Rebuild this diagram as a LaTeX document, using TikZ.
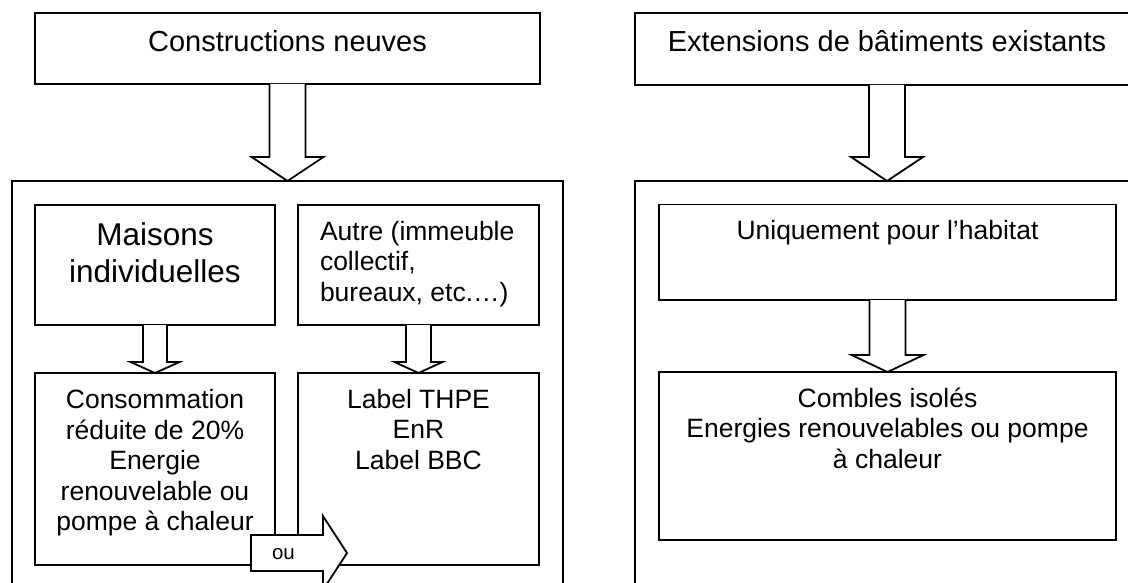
\documentclass[tikz,border=0pt]{standalone}
\usepackage{fontspec}
\setmainfont{Liberation Sans}
\usetikzlibrary{calc}

% hollow downward block arrow between two boxes:
% #1 upper node, #2 lower node, #3 shaft half width, #4 head half width, #5 head length
\newcommand\hollowdown[5]{%
  \draw[blk] ($(#1.south)+(-#3,0)$) -- ($(#2.north)+(-#3,-#5)$)
    -- ($(#2.north)+(-#4,-#5)$) -- (#2.north) -- ($(#2.north)+(#4,-#5)$)
    -- ($(#2.north)+(#3,-#5)$) -- ($(#1.south)+(#3,0)$);}

\begin{document}
\begin{tikzpicture}[x=1pt, y=-1pt,
  box/.style={draw, line width=1.8pt, fill=white, inner sep=0pt, outer sep=0pt, anchor=north west},
  blk/.style={draw, line width=1.8pt, fill=white, line join=miter},
  txt/.style={inner sep=0pt, outer sep=0pt, anchor=base, align=center},
  big/.style={font=\fontsize{31.5}{37}\selectfont},
  head/.style={font=\fontsize{29}{33}\selectfont},
  body/.style={font=\fontsize{26.5}{30.4}\selectfont},
  small/.style={font=\fontsize{20.5}{24}\selectfont}]
\useasboundingbox (0,0) rectangle (1128,583);
\clip (0,0) rectangle (1128,583);

% left column: new constructions
\node[box, minimum width=505pt, minimum height=71pt] (cn) at (35,13) {};
\node[box, minimum width=551pt, minimum height=430pt] (outL) at (12,181) {};
\node[box, minimum width=240pt, minimum height=120pt] (mi) at (35,205) {};
\node[box, minimum width=241pt, minimum height=120pt] (au) at (298,205) {};
\node[box, minimum width=240pt, minimum height=192pt] (co) at (35,373) {};
\node[box, minimum width=241pt, minimum height=192pt] (la) at (298,373) {};

% right column: extensions
\node[box, minimum width=504pt, minimum height=72pt] (ex) at (635,13) {};
\node[box, minimum width=504pt, minimum height=430pt] (outR) at (635,181) {};
\node[box, minimum width=457pt, minimum height=95.5pt] (un) at (659,204.5) {};
\node[box, minimum width=457pt, minimum height=168pt] (cb) at (659,372) {};

% block arrows
\hollowdown{cn}{outL}{18}{36}{24}
\hollowdown{mi}{co}{12}{24.5}{11}
\hollowdown{au}{la}{12.5}{24}{11}
\hollowdown{ex}{outR}{18}{36}{24}
\hollowdown{un}{cb}{18}{36}{17}

% sideways "ou" arrow laid over the two lower boxes
\coordinate (ouA) at (251,535);
\coordinate (ouB) at (323,535);
\coordinate (ouC) at (323,516);
\coordinate (ouTip) at (347,553);
\coordinate (ouD) at (323,590);
\coordinate (ouE) at (323,571);
\coordinate (ouF) at (251,571);
\draw[blk] (ouA) -- (ouB) -- (ouC) -- (ouTip) -- (ouD) -- (ouE) -- (ouF) -- cycle;

% texts (multi-line nodes are anchored at the baseline of their last line)
\node[txt, head] (cnT) at (287.5,52) {Constructions neuves};
\node[txt, head] (exT) at (887,52) {Extensions de bâtiments existants};
\node[txt, big] (miT) at (155,282) {Maisons\\individuelles};
\node[txt, body, anchor=base west, align=left] (auT) at (320,301) {Autre (immeuble\\collectif,\\bureaux, etc.…)};
\node[txt, body] (coT) at (155,530.5) {Consommation\\réduite de 20\%\\Energie\\renouvelable ou\\pompe à chaleur};
\node[txt, body] (laT) at (418.5,469) {Label THPE\\EnR\\Label BBC};
\node[txt, body] (unT) at (887.5,240) {Uniquement pour l’habitat};
\node[txt, body] (cbT) at (887.5,468) {Combles isolés\\Energies renouvelables ou pompe\\à chaleur};
\node[txt, small, anchor=base west] (ouT) at (272,559) {ou};
\end{tikzpicture}
\end{document}
